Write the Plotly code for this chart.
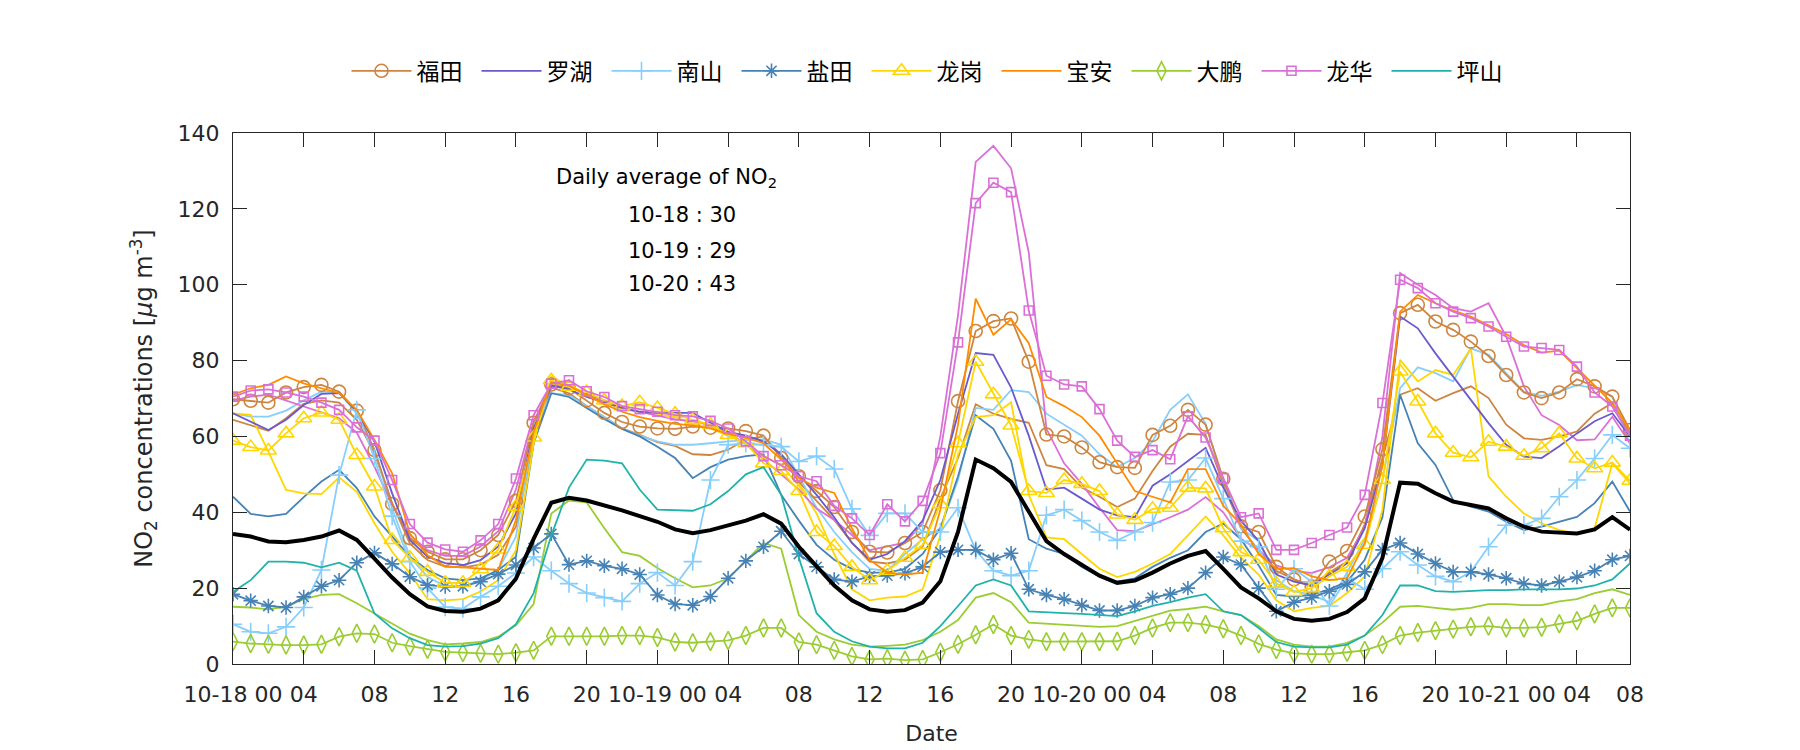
import plotly.graph_objects as go

hours = list(range(80))
tick_vals = [0, 4, 8, 12, 16, 20, 24, 28, 32, 36, 40, 44, 48, 52, 56, 60, 64, 68, 72, 76, 79]
tick_text = ["10-18 00", "04", "08", "12", "16", "20", "10-19 00", "04", "08", "12", "16", "20",
             "10-20 00", "04", "08", "12", "16", "20", "10-21 00", "04", "08"]

futian = [69.8, 69.4, 68.9, 71.6, 73, 73.6, 71.8, 66.8, 56.4, 42.2, 33.2, 29.6, 27.6, 27.6, 30, 34, 43,
          63.6, 73.7, 72.7, 69.5, 66.2, 63.8, 62.6, 62.1, 62, 62.6, 62.3, 62.1, 61.4, 60.2,
          54.3, 49.5, 45.6, 41.4, 34.8, 29.6, 29.4, 31.9, 34.8, 45.8, 69.3, 87.8, 90.4, 91.1, 79.7, 60.5, 60, 57.1, 53.2, 51.9, 51.7, 60.4, 62.8, 67,
          63.1, 48.8, 36.3, 34.8, 25.6, 22.3, 20.4, 27, 29.8, 38.9, 56.6,
          92.5, 94.7, 90.3, 88.1, 85, 81.2, 76.2, 71.6, 70.1, 71.6, 75.1, 73.2, 70.5, 61.7]
futian_b = [64.4, 63, 61.5, 64.8, 68.6, 69.5, 68.9, 64.4, 55.6, 42.4, 31.8, 27.4, 25.7, 25.5, 26.2, 28.8, 36.2,
            58.2, 72.9, 71.4, 68, 65.1, 62.1, 60.4, 58.5, 57.5, 55.3, 55.1, 56.5, 59.2, 60,
            55, 48, 43, 38, 32, 27, 26.5, 27.5, 31, 43.6, 54.3, 68.5, 66, 64.6, 63.6, 52.4, 51.4, 46.5, 44.1, 41.4, 43.6, 50.9, 57.3, 60.7,
            60.4, 47.5, 35.8, 30, 24.6, 22.3, 20.7, 24.1, 27, 36.8, 54.3,
            71, 72.7, 69.4, 71.4, 73.2, 70.1, 63.1, 59.5, 59.1, 60, 61.3, 66, 68.8, 60.8]
luohu = [66.1, 64, 61.7, 64.4, 68.3, 71.2, 71.4, 66.6, 58.6, 45, 32.7, 28.3, 26.6, 26.1, 27.4, 31, 39.7,
         62.1, 73.4, 72.4, 70.4, 69, 67.5, 66.5, 66.2, 66.2, 66.2, 63.6, 61.2, 60.2, 58.7,
         55.3, 50, 44.6, 38.7, 31.9, 27.5, 29, 32.4, 37.8, 48.5, 66, 82, 81.5, 72.9, 60.2, 46, 46.5, 43.6, 40.7, 39.2, 38.7, 47, 50, 53.5,
         57, 46.5, 37.8, 32.4, 23.6, 21.7, 20.7, 23.6, 26.5, 35.8, 52.4,
         91.6, 88.5, 81.9, 75.8, 69.6, 63.5, 57.8, 54.7, 54.3, 57.4, 60.8, 64, 66.1, 60]
nanshan = [10.5, 8.5, 8.1, 9.8, 14.9, 24.8, 49.8, 67, 54.2, 39, 27, 20, 15, 14.6, 17.7, 20.5, 24,
           28.2, 24.6, 21.2, 18.7, 17.5, 16.5, 21.2, 24.1, 20.7, 27, 48.5, 57.8, 58.2, 57.8,
           57.3, 53.4, 54.8, 51.4, 40.9, 33.9, 39.7, 39.7, 34.8, 34.8, 41.2, 30, 24.6, 23.3, 24.6, 39.2, 40.7, 37.8, 34.8, 32.6, 34.8, 37.3, 48, 48.5,
           54.3, 43.6, 32.4, 30.9, 19.7, 25.1, 21.7, 15.3, 22.6, 19.7, 25.1,
           29.6, 26.1, 23.1, 21.7, 24.3, 30.9, 36.6, 36.6, 38.4, 44.1, 48.5, 54.2, 60.4, 56.9]
nanshan_b = [66.1, 65.2, 65.2, 66.8, 69.5, 71.8, 71.6, 66, 56.4, 41, 28.3, 23, 20.5, 20.4, 22.1, 24.8, 33.6,
             61.2, 71.4, 70.9, 68, 65.1, 62.1, 60.2, 58.7, 57.8, 57.8, 58.2, 58.7, 59, 59.2,
             57.8, 49.5, 41.2, 34.8, 29.5, 25.1, 24.6, 29, 32.9, 35.8, 48.5, 67.5, 67, 72.2, 71.7, 66, 63.1, 60.2, 55.3, 51.9, 54.3, 58.7, 67, 71.1,
             63.3, 48.5, 35.8, 32.4, 22.1, 19.2, 18.2, 16.3, 24.1, 32.9, 48.5,
             72.7, 78.2, 76.7, 74.5, 83.2, 81.5, 76.7, 71.8, 70.7, 71.8, 73.6, 72.7, 70.5, 58]
yantian = [18.4, 16.7, 15.3, 14.9, 17.7, 20.5, 22.1, 26.7, 29.3, 26.4, 23, 20.8, 20.4, 20.5, 21.7, 23.7, 26.1,
           30.6, 34.3, 26.2, 27.2, 25.9, 25.1, 23.6, 18.2, 15.8, 15.5, 17.8, 22.6, 27.2, 30.9,
           35, 29, 25.6, 22.3, 21.7, 23.1, 23.3, 23.9, 25.6, 29.5, 30.1, 30.1, 27.5, 29.2, 19.7, 18.2, 17.1, 15.5, 14.1, 14.1, 15.3, 17.5, 18.4, 20,
           24.1, 28.2, 26.2, 20, 13.9, 16.3, 17.5, 19.2, 21, 24.3, 30.1,
           31.9, 29, 26.5, 24.3, 24.3, 23.6, 22.6, 21.2, 20.7, 21.7, 22.9, 24.6, 27.5, 28.5]
yantian_b = [44.1, 39.6, 38.9, 39.6, 44, 48.1, 51.2, 46.4, 38.9, 33.6, 28.3, 24.8, 22.6, 22.1, 22.6, 24.8, 28.3,
             58.2, 71.4, 70.4, 67.5, 64.6, 62, 60, 57.3, 54.3, 49, 51.9, 53.9, 54.8, 55.3,
             44.6, 37.8, 31.4, 27.5, 25.1, 24.1, 24.1, 25.1, 29, 35.8, 49.5, 65.6, 62, 53.6, 32.9, 30.4, 29, 25.6, 23.1, 21.7, 22.6, 25.6, 28, 30,
             34.8, 37, 32.9, 26, 18.2, 17.8, 18.2, 19.7, 21.7, 27.5, 38.7,
             71, 58.2, 52.5, 43.2, 41.5, 40.2, 37.5, 35.3, 36.2, 37.5, 38.8, 42.4, 48.1, 40.2]
longgang = [58.9, 57.2, 56.3, 60.8, 64.8, 66.3, 64.4, 55.1, 46.8, 32.7, 28, 24.3, 21.4, 21.4, 25, 30.2, 41.5,
            59.7, 74.8, 73.1, 71.7, 69.5, 68, 69, 67.5, 66, 64.3, 63.1, 60.4, 58.2, 52.9,
            50.9, 45.6, 34.8, 31.1, 25.6, 22.1, 24.6, 28, 31.4, 42.1, 58.2, 79.7, 71.1, 62.9, 45.6, 45.1, 48.5, 47.5, 45.6, 39.4, 38, 40.9, 41.2, 46.5,
            46.3, 35.8, 29.5, 27.5, 21.2, 19, 20, 23.1, 25.6, 31.4, 48.5,
            77.1, 69.2, 60.8, 55.7, 54.5, 58.6, 57.3, 54.9, 56.9, 60.8, 54.2, 51.6, 53.1, 48.3]
longgang_b = [66.1, 65.7, 56, 45.9, 45, 44.8, 49.2, 45.4, 37.1, 29.6, 23.9, 17.1, 16.8, 17.1, 19.1, 22.1, 30,
              58.2, 75.8, 73.4, 70.9, 69, 67.2, 66.5, 66, 65.1, 63.3, 62.1, 60.2, 58.2, 54.8,
              52.4, 47, 39.7, 29, 19.7, 16.8, 17.5, 17.8, 19.7, 33.9, 55.3, 65.1, 65.6, 69, 44.6, 33.4, 32.9, 29, 25.1, 22.9, 24.3, 26.5, 29, 33.9,
              38.9, 33.9, 28, 23.6, 16.8, 13.9, 14.8, 15.3, 18.7, 23.1, 40.7,
              80.2, 74.5, 77.5, 76.2, 83.2, 49.5, 44.1, 39.7, 37.1, 35.3, 34.4, 35.8, 52.9, 47.6]
baoan = [71, 72.7, 73.6, 75.8, 74, 72.7, 71.4, 67, 59.1, 50.3, 34.4, 28.7, 25.7, 25.5, 25.2, 24.8, 38,
         61.2, 74.3, 73.4, 70.9, 68.5, 66.5, 65.1, 64.1, 63.3, 62.9, 62.1, 60.7, 59.7, 58.2,
         53.9, 49, 46.5, 45.1, 35.8, 27.5, 24.1, 23.6, 24.1, 40.7, 63.1, 96.3, 86.8, 90.9, 84.6, 70.4, 68, 65.1, 60.2, 52.9, 45.6, 44.1, 42.6, 51.4,
         51.4, 41.7, 36.8, 29, 25.1, 25.3, 23.1, 22.1, 22.6, 31.9, 52.4,
         92.9, 97.3, 95.1, 93.2, 91.6, 89.4, 87, 84.1, 82.1, 82.6, 78, 73.6, 68.8, 61.7]
dapeng = [5.9, 5.4, 5.2, 5, 5, 5.2, 7.2, 8.1, 7.9, 5.6, 4.7, 3.9, 3.2, 3, 2.8, 2.6, 3,
          3.6, 7.3, 7.3, 7.3, 7.3, 7.5, 7.5, 7, 5.8, 5.6, 5.9, 6.2, 7.5, 9.5,
          9.5, 5.8, 5.1, 3.6, 2, 1.2, 1.4, 1.0, 1.2, 3.1, 5.2, 7.7, 10.4, 7.5, 6.5, 5.9, 5.9, 5.9, 5.9, 6, 7.5, 9.5, 10.9, 10.9,
          10.4, 9.3, 7.5, 5.3, 3.8, 2.8, 2.6, 2.6, 3.1, 3.6, 5.1,
          7.5, 8.3, 8.8, 9.2, 9.8, 10, 9.5, 9.5, 9.7, 10.6, 11.4, 13.2, 14.8, 14.8]
dapeng_b = [15.1, 14.9, 14.4, 15.1, 17.1, 18.2, 18.4, 16, 13.3, 10.7, 8, 6.3, 5.2, 5.4, 5.8, 7.2, 10.2,
            15.8, 39.7, 43.1, 42.6, 35.8, 29.5, 28.5, 25.3, 22.6, 20.2, 20.7, 22.6, 27.2, 31.9,
            30.4, 12.9, 8.5, 6.5, 5.1, 4.6, 4.8, 5.1, 6.3, 8.5, 11.6, 17.5, 18.7, 16.3, 10.9, 10.6, 10.4, 10.1, 9.8, 10, 11.4, 12.9, 14.1, 14.5,
            15.1, 13.9, 12.9, 10, 6.5, 5.1, 4.6, 4.6, 5.6, 7.5, 10.9,
            15.1, 15.3, 14.8, 14.3, 14.8, 15.8, 15.8, 15.5, 15.5, 16.5, 17.1, 18.7, 19.7, 18.2]
longhua = [70.5, 72.1, 72.4, 71.6, 70.5, 68.9, 67, 62.4, 58.9, 48.5, 36.9, 32, 30.2, 29.6, 32.6, 36.9, 48.9,
           65.6, 73.9, 74.8, 71.9, 70.4, 68, 67.2, 66.5, 65.6, 65.3, 64.1, 62.1, 58.7, 54.8,
           52.4, 49.5, 48.2, 41.7, 38.4, 34, 42.1, 37.6, 43, 55.6, 84.8, 121.5, 126.9, 124.4, 93.2, 76, 73.7, 73.2, 67.2, 58.9, 54.6, 56.4, 54, 65.3,
           59.7, 49, 38.7, 39.7, 30.1, 30.1, 31.9, 34, 36, 44.6, 68.8,
           101.3, 99.1, 95.1, 92.9, 91.2, 89, 86.3, 83.7, 83.3, 82.8, 78.4, 71.6, 67.9, 60.2]
longhua_b = [69.5, 70.5, 71, 69.5, 67.8, 66.5, 64.8, 61, 52, 42, 34, 30, 28.5, 28.5, 31, 35, 46,
             64, 73, 73.5, 71, 69.5, 67.5, 66.5, 65.5, 64.5, 64, 63, 61, 58, 54,
             50, 46, 41, 38, 34, 30, 31, 32, 37, 60, 92, 132.4, 136.6, 130.7, 108.5, 62, 52.9, 47.5, 41.2, 35.3, 35, 36.8, 38.7, 40.7,
             44, 40, 33, 30, 26, 24.5, 24, 25.5, 28, 36, 60,
             103.1, 100, 97.3, 93.8, 92.9, 95.1, 86.3, 73.2, 65.6, 63, 59, 59.2, 65.2, 58.2]
pingshan = [19, 22.1, 27, 27, 26.7, 25.5, 26.7, 24.6, 13.3, 9.4, 6.8, 5, 4.6, 4.7, 5.4, 6.8, 10.5,
            18.7, 33.9, 46.5, 53.9, 53.6, 52.9, 46, 40.7, 40.5, 40.4, 42.1, 45.6, 50, 51.9,
            44.6, 28, 13.4, 8.5, 6, 4.6, 4.1, 4.1, 5.6, 10, 15.3, 20.7, 22.3, 20.7, 13.9, 13.6, 13.4, 13.2, 12.9, 12.6, 13.9, 15.3, 16.3, 17.5,
            18.4, 13.9, 12.9, 9.5, 5.8, 4.6, 4.4, 4.4, 5.1, 7.5, 12.9,
            20.7, 20.7, 19.2, 19, 19.2, 19.5, 19.5, 19.7, 19.7, 19.7, 19.9, 20.7, 22.3, 26.5]
mean_all = [34.3, 33.6, 32.3, 32.1, 32.7, 33.6, 35.2, 32.7, 27.8, 22.8, 18.4, 15.2, 14, 13.8, 14.6, 16.8, 22.5,
            33, 42.5, 43.8, 43.1, 41.9, 40.5, 39, 37.5, 35.5, 34.5, 35.3, 36.6, 37.8, 39.5,
            37, 30.9, 25.6, 20.7, 16.8, 14.4, 13.8, 14.2, 16.2, 21.8, 34.8, 53.9, 51.6, 48, 40.2, 32.4, 29, 26, 23.3, 21.4, 22, 24.1, 26.5, 28.5,
            29.8, 25.1, 20.2, 17.3, 13.9, 11.9, 11.4, 11.9, 13.7, 17.3, 28,
            47.8, 47.5, 45, 42.8, 41.9, 41, 38.4, 36.2, 34.9, 34.7, 34.4, 35.5, 38.7, 35.4]

C_FT, C_LH, C_NS, C_YT, C_LG = "#CD853F", "#6A5ACD", "#87CEFA", "#4682B4", "#FFD700"
C_BA, C_DP, C_LHUA, C_PS = "#FF8C00", "#9ACD32", "#DA70D6", "#20B2AA"

fig = go.Figure()
LW = 1.8
MW = 1.6

def add(y, name, color, symbol=None, size=10, show=True):
    mode = "lines+markers" if symbol else "lines"
    marker = dict(symbol=symbol, size=size, color=color, line=dict(color=color, width=MW)) if symbol else None
    fig.add_trace(go.Scatter(x=hours, y=y, name=name, mode=mode, showlegend=show,
                             line=dict(color=color, width=LW), marker=marker))

# unlabelled companion lines
add(futian_b, "福田b", C_FT, show=False)
add(nanshan_b, "南山b", C_NS, show=False)
add(yantian_b, "盐田b", C_YT, show=False)
add(longgang_b, "龙岗b", C_LG, show=False)
add(dapeng_b, "大鹏b", C_DP, show=False)
add(longhua_b, "龙华b", C_LHUA, show=False)

add(futian, "福田", C_FT, "circle-open", 13)
add(luohu, "罗湖", C_LH)
add(nanshan, "南山", C_NS, "cross-thin-open", 13)
add(yantian, "盐田", C_YT, "asterisk-open", 12)
add(longgang, "龙岗", C_LG, "triangle-up-open", 14)
add(baoan, "宝安", C_BA)
add(dapeng, "大鹏", C_DP, "diamond-tall-open", 13)
add(longhua, "龙华", C_LHUA, "square-open", 9)
add(pingshan, "坪山", C_PS)

fig.add_trace(go.Scatter(x=hours, y=mean_all, mode="lines", showlegend=False,
                         line=dict(color="black", width=4)))

FONT = "DejaVu Sans, Noto Sans CJK SC, sans-serif"
TXT = "#262626"

ann_lines = ["Daily average of NO<sub>2</sub>", "10-18 : 30", "10-19 : 29", "10-20 : 43"]
ann_x = [24.5, 25.4, 25.4, 25.4]
ann_y = [128.2, 118.3, 109.0, 100.1]
annotations = [dict(x=ax, y=ay, xref="x", yref="y", text=t, showarrow=False,
                    font=dict(size=21, color="black", family=FONT), xanchor="center", yanchor="middle")
               for t, ax, ay in zip(ann_lines, ann_x, ann_y)]

fig.update_layout(
    width=1800, height=750,
    paper_bgcolor="white", plot_bgcolor="white",
    margin=dict(l=233, r=170, t=133, b=86, autoexpand=False),
    font=dict(family=FONT, size=22, color=TXT),
    showlegend=True,
    legend=dict(orientation="h", x=0.5, xanchor="center", y=1.117, yanchor="middle",
                font=dict(size=23, family=FONT, color="black"), bgcolor="rgba(0,0,0,0)",
                entrywidth=55, entrywidthmode="pixels", itemwidth=60),
    annotations=annotations,
)
fig.update_xaxes(range=[0, 79], tickmode="array", tickvals=tick_vals, ticktext=tick_text,
                 showline=True, linecolor=TXT, linewidth=1.2, mirror="ticks",
                 ticks="inside", ticklen=14, tickwidth=1.2, tickcolor=TXT,
                 showgrid=False, zeroline=False, ticklabelstandoff=10,
                 tickfont=dict(size=22, color=TXT),
                 title=dict(text="Date", font=dict(size=22, color=TXT), standoff=20))
fig.update_yaxes(range=[0, 140], tickmode="array", tickvals=[0, 20, 40, 60, 80, 100, 120, 140],
                 showline=True, linecolor=TXT, linewidth=1.2, mirror="ticks",
                 ticks="inside", ticklen=14, tickwidth=1.2, tickcolor=TXT,
                 showgrid=False, zeroline=False, ticklabelstandoff=8,
                 tickfont=dict(size=22, color=TXT),
                 title=dict(text="NO<sub>2</sub> concentrations [<i>μ</i>g m<sup>-3</sup>]",
                            font=dict(size=24, color=TXT), standoff=18))

fig.write_html("out.html", config={"displayModeBar": False},
               post_script="document.body.style.margin='0';document.body.style.padding='0';document.body.style.overflow='hidden';")
